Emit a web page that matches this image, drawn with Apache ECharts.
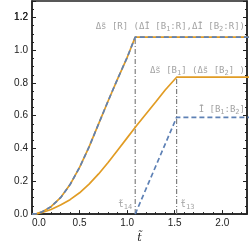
<!DOCTYPE html>
<html><head><meta charset="utf-8">
<script src="https://cdn.jsdelivr.net/npm/echarts@6/dist/echarts.min.js"></script>
<style>html,body{margin:0;padding:0;background:#fff}#c{width:249px;height:249px}</style>
</head><body><div id="c"></div>
<script>
// axis extents and tick labels
const xMax = 2.26, yMax = 1.3;
const xTickStep = 0.5, yTickStep = 0.2;
const xLabels = [0, 0.5, 1.0, 1.5, 2.0];
const yLabels = [0, 0.2, 0.4, 0.6, 0.8, 1.0, 1.2];
const yTopLabel = 1.2;

// Δs̃[R] (upper curve, orange solid + blue dashed overlay)
const tUpper = [0, 0.05, 0.1, 0.2, 0.3, 0.4, 0.5, 0.6, 0.7, 0.8, 0.9, 1.0, 1.085, 2.3];
const vUpper = [0, 0.003, 0.012, 0.045, 0.10, 0.18, 0.285, 0.41, 0.55, 0.69, 0.825, 0.955, 1.08, 1.08];

// Δs̃[B1] (lower orange curve)
const tLower = [0, 0.05, 0.1, 0.2, 0.3, 0.4, 0.5, 0.6, 0.7, 0.8, 0.9, 1.0, 1.1, 1.2, 1.3, 1.4, 1.52, 2.3];
const vLower = [0, 0.002, 0.008, 0.028, 0.055, 0.088, 0.13, 0.183, 0.245, 0.315, 0.39, 0.465, 0.54, 0.612, 0.684, 0.757, 0.835, 0.835];

// Ĩ[B1:B2] (blue dashed)
const tInfo = [1.085, 1.52, 2.3];
const vInfo = [0, 0.59, 0.59];

// characteristic times
const t14 = 1.085, t14Top = 1.08;
const t13 = 1.52, t13Top = 0.835;

// annotation texts (rich-text markup: {n|...} normal, {s|...} subscript)
const labelR = '{n|Δs̃ [R] (ΔĨ [B}{s|1}{n|:R],ΔĨ [B}{s|2}{n|:R])}';
const labelB = '{n|Δs̃ [B}{s|1}{n|] (Δs̃ [B}{s|2}{n|] )}';
const labelI = '{n|Ĩ [B}{s|1}{n|:B}{s|2}{n|]}';
const label14 = '{n|t̃}{s|14}';
const label13 = '{n|t̃}{s|13}';

const zip = (a, b) => a.map((x, i) => [x, b[i]]);
const ORANGE = '#E19C24', BLUE = '#5E81B5', GRAY = '#808080', INK = '#222';
const axisFont = { fontSize: 10, color: INK, fontFamily: 'Liberation Sans' };

const xAxis = {
  type: 'value', min: 0, max: xMax, interval: xTickStep, position: 'bottom',
  axisLine: { show: true, onZero: false, lineStyle: { color: INK, width: 1.5 } },
  axisTick: { show: true, inside: true, length: 4, lineStyle: { color: INK, width: 1 } },
  minorTick: { show: true, splitNumber: 5, length: 2, lineStyle: { color: INK, width: 1 } },
  splitLine: { show: false },
  axisLabel: Object.assign({ show: true, margin: 4, customValues: xLabels, alignMinLabel: 'left',
    formatter: v => v.toFixed(1) }, axisFont),
  name: 't̃', nameLocation: 'middle', nameGap: 18,
  nameTextStyle: { fontSize: 11, color: INK, fontFamily: 'DejaVu Serif', fontStyle: 'italic' }
};
function yAx(pos, labels) {
  return {
    type: 'value', min: 0, max: yMax, interval: yTickStep, position: pos,
    axisLine: { show: true, onZero: false, lineStyle: { color: INK, width: 1.5 } },
    axisTick: { show: true, inside: true, length: 4, lineStyle: { color: INK, width: 1 } },
    minorTick: { show: true, splitNumber: 4, length: 2, lineStyle: { color: INK, width: 1 } },
    splitLine: { show: false },
    axisLabel: labels ? Object.assign({ show: true, margin: 4, customValues: yLabels,
      showMaxLabel: true, formatter: v => v.toFixed(1) }, axisFont) : { show: false }
  };
}

const rich = {
  n: { color: '#8a8a8a', fontFamily: 'DejaVu Sans Mono', fontSize: 9, lineHeight: 12 },
  s: { color: '#8a8a8a', fontFamily: 'DejaVu Sans Mono', fontSize: 7, lineHeight: 8, verticalAlign: 'bottom' }
};
function lbl(x, y, text, align, dx, dy) {
  return {
    value: [x, y],
    label: { show: true, formatter: text, position: 'inside', align: align,
      verticalAlign: 'middle', offset: [dx, dy], rich: rich }
  };
}

const chart = echarts.init(document.getElementById('c'), null, { renderer: 'canvas' });
chart.setOption({
  animation: false,
  grid: { left: 32, right: 2, top: 1, bottom: 32, containLabel: false,
    show: true, borderColor: INK, borderWidth: 1.5, backgroundColor: 'transparent' },
  xAxis: [xAxis],
  yAxis: [yAx('left', true), yAx('right', false)],
  series: [
    { type: 'line', data: [[t14, 0], [t14, t14Top]], showSymbol: false, silent: true,
      lineStyle: { color: GRAY, width: 1.2, type: [5, 2, 1, 2] } },
    { type: 'line', data: [[t13, 0], [t13, t13Top]], showSymbol: false, silent: true,
      lineStyle: { color: GRAY, width: 1.2, type: [5, 2, 1, 2] } },
    { type: 'line', data: zip(tUpper, vUpper), showSymbol: false,
      lineStyle: { color: ORANGE, width: 1.7 } },
    { type: 'line', data: zip(tLower, vLower), showSymbol: false,
      lineStyle: { color: ORANGE, width: 1.7 } },
    { type: 'line', data: zip(tUpper, vUpper), showSymbol: false,
      lineStyle: { color: BLUE, width: 1.7, type: [5, 3] } },
    { type: 'line', data: zip(tInfo, vInfo), showSymbol: false,
      lineStyle: { color: BLUE, width: 1.7, type: [5, 3] } },
    { type: 'scatter', symbolSize: 0, silent: true, data: [
        lbl(xMax, t14Top, labelR, 'right', -2, -10),
        lbl(xMax, t13Top, labelB, 'right', -2, -7),
        lbl(xMax, vInfo[vInfo.length - 1], labelI, 'right', -2, -8),
        lbl(t14, 0, label14, 'right', -3, -9),
        lbl(t13, 0, label13, 'left', 4, -9)
      ] }
  ]
});
// top y tick label, positioned through the library's scale (same spot as the axis label)
const p = chart.convertToPixel({ xAxisIndex: 0, yAxisIndex: 0 }, [0, yTopLabel]);
chart.setOption({
  graphic: [{
    type: 'text', z: 100, x: p[0] - 4, y: p[1],
    style: { text: yTopLabel.toFixed(1), align: 'right', verticalAlign: 'middle',
      fill: INK, fontSize: 10, fontFamily: 'Liberation Sans' }
  }]
});
</script></body></html>
